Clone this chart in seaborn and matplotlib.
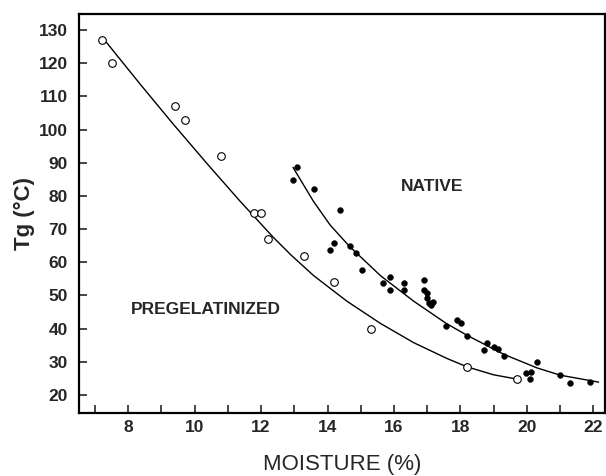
import numpy as np
import pandas as pd
import matplotlib
matplotlib.use("Agg")
import matplotlib.pyplot as plt
from matplotlib.ticker import MultipleLocator
import seaborn as sns

# Pregelatinized starch (open circles)
preg_moisture = [7.2, 7.5, 9.4, 9.7, 10.8, 11.8, 12.0, 12.2, 13.3, 14.2, 15.3, 18.2, 19.7]
preg_tg = [127, 120, 107, 103, 92, 75, 75, 67, 62, 54, 40, 28.5, 24.7]

# Native starch (filled dots)
native_moisture = [12.97, 13.08, 13.59, 14.38, 14.18, 14.08, 14.67, 14.87, 15.05, 15.68,
                   15.88, 15.87, 16.29, 16.29, 16.89, 16.89, 16.99, 16.99, 17.04, 17.11,
                   17.17, 17.57, 17.89, 18.01, 18.2, 18.72, 18.8, 19.0, 19.12, 19.3,
                   19.98, 20.12, 20.1, 20.29, 21.0, 21.3, 21.89]
native_tg = [84.7, 88.8, 82.0, 75.8, 65.8, 63.7, 64.8, 62.7, 57.8, 53.9,
             55.7, 51.6, 53.9, 51.6, 54.8, 51.6, 50.9, 49.2, 47.7, 47.0,
             48.0, 40.8, 42.7, 41.7, 37.7, 33.7, 35.6, 34.6, 33.8, 31.9,
             26.6, 27.0, 24.7, 29.9, 25.9, 23.7, 23.9]

# fitted curves
preg_fit_x = [7.35, 8.35, 9.35, 10.35, 11.35, 12.36, 12.9, 13.58, 14.58, 15.59,
              16.59, 17.6, 18.2, 19.0, 19.6]
preg_fit_y = [126.2, 113.8, 101.7, 90.0, 78.6, 67.6, 62.2, 56.0, 48.3, 41.6,
              35.8, 31.0, 28.5, 26.1, 25.0]
native_fit_x = [12.96, 13.58, 14.08, 14.66, 15.59, 16.59, 17.57, 18.2, 19.3, 20.3,
                21.0, 22.16]
native_fit_y = [88.6, 78.3, 71.2, 64.8, 56.0, 48.3, 41.6, 38.0, 32.3, 28.2,
                26.0, 23.9]

x_ticks = [8, 10, 12, 14, 16, 18, 20, 22]
y_ticks = [20, 30, 40, 50, 60, 70, 80, 90, 100, 110, 120, 130]

sns.set_style("ticks")
plt.rcParams['font.family'] = ['Liberation Sans', 'DejaVu Sans']

preg = pd.DataFrame({'moisture': preg_moisture, 'tg': preg_tg})
native = pd.DataFrame({'moisture': native_moisture, 'tg': native_tg})

fig = plt.figure(figsize=(6.06, 4.76), dpi=100)
ax = fig.add_axes([79 / 606, 63 / 476, 526 / 606, 399 / 476])

sns.lineplot(x=preg_fit_x, y=preg_fit_y, sort=False, estimator=None,
             color='black', linewidth=1.0, ax=ax)
sns.lineplot(x=native_fit_x, y=native_fit_y, sort=False, estimator=None,
             color='black', linewidth=1.0, ax=ax)

sns.scatterplot(data=preg, x='moisture', y='tg', marker='o', s=30,
                facecolor='white', edgecolor='black', linewidth=0.8, ax=ax, zorder=3)
sns.scatterplot(data=native, x='moisture', y='tg', marker='o', s=18,
                color='black', edgecolor='black', linewidth=0.3, ax=ax, zorder=3)

ax.text(17.15, 82.7, 'NATIVE', ha='center', va='center', fontsize=12.5, fontweight='bold')
ax.text(10.35, 45.8, 'PREGELATINIZED', ha='center', va='center', fontsize=12.5, fontweight='bold')

ax.set_xlim(6.52, 22.35)
ax.set_ylim(14.6, 134.8)
ax.set_xticks(x_ticks)
ax.set_yticks(y_ticks)
ax.xaxis.set_minor_locator(MultipleLocator(1))
ax.tick_params(axis='both', which='both', direction='in', length=6, width=1.2,
               labelsize=12.5, pad=5)
ax.tick_params(axis='y', pad=8)
for lab in ax.get_xticklabels() + ax.get_yticklabels():
    lab.set_fontweight('bold')

for side in ['left', 'bottom', 'top', 'right']:
    ax.spines[side].set_linewidth(1.6)
    ax.spines[side].set_color('black')

ax.set_xlabel('MOISTURE (%)', fontsize=16, labelpad=14)
ax.set_ylabel('Tg (°C)', fontsize=16, fontweight='bold', labelpad=3)

fig.savefig('out.png', dpi=100)
